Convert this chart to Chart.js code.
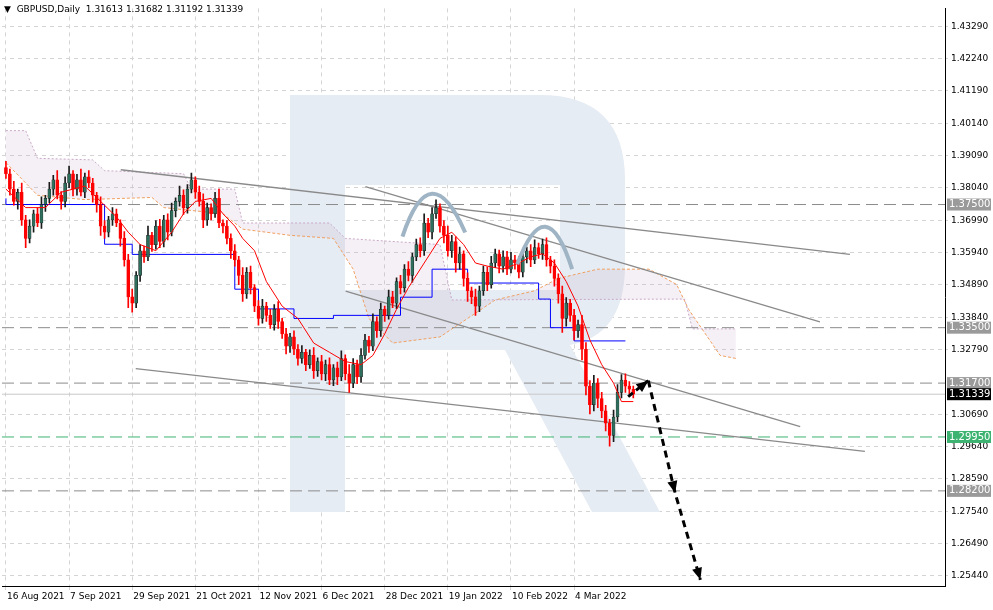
<!DOCTYPE html>
<html><head><meta charset="utf-8">
<script src="https://cdn.jsdelivr.net/npm/chart.js@4"></script>
<style>html,body{margin:0;background:#fff}#wrap{width:993px;height:610px;position:relative}</style>
</head><body><div id="wrap"><canvas id="c" width="993" height="610"></canvas></div>
<script>
// GBPUSD daily closes (open = previous close), wicks in pips
const closes = [
1.3850,1.3800,1.3760,1.3790,1.3700,1.3640,1.3680,1.3720,1.3690,1.3750,
1.3770,1.3800,1.3830,1.3780,1.3760,1.3820,1.3850,1.3800,1.3830,1.3790,
1.3840,1.3820,1.3780,1.3750,1.3680,1.3660,1.3700,1.3720,1.3690,1.3640,
1.3570,1.3450,1.3430,1.3520,1.3600,1.3580,1.3650,1.3620,1.3680,1.3630,
1.3700,1.3660,1.3730,1.3760,1.3780,1.3740,1.3800,1.3830,1.3790,1.3760,
1.3700,1.3740,1.3720,1.3770,1.3690,1.3680,1.3640,1.3600,1.3570,1.3520,
1.3460,1.3530,1.3480,1.3420,1.3380,1.3420,1.3390,1.3360,1.3410,1.3370,
1.3330,1.3290,1.3320,1.3280,1.3250,1.3270,1.3230,1.3260,1.3210,1.3240,
1.3200,1.3230,1.3180,1.3220,1.3190,1.3250,1.3200,1.3170,1.3230,1.3190,
1.3260,1.3310,1.3290,1.3370,1.3340,1.3410,1.3390,1.3450,1.3430,1.3500,
1.3480,1.3540,1.3520,1.3580,1.3620,1.3600,1.3690,1.3660,1.3720,1.3740,
1.3680,1.3650,1.3600,1.3630,1.3560,1.3590,1.3510,1.3470,1.3450,1.3420,
1.3470,1.3530,1.3490,1.3560,1.3590,1.3550,1.3580,1.3540,1.3570,1.3560,
1.3530,1.3580,1.3600,1.3570,1.3610,1.3590,1.3620,1.3570,1.3550,1.3510,
1.3460,1.3380,1.3430,1.3390,1.3340,1.3360,1.3280,1.3160,1.3100,1.3170,
1.3120,1.3080,1.3040,1.3000,1.3060,1.3140,1.3180,1.3160,1.3150,1.31339];
const firstOpen = 1.3870;
const upWick = [
20,15,25,10,30,15,20,12,18,25,10,22,15,30,12,20,25,10,18,35,
12,20,15,10,25,18,12,20,15,10,22,18,25,12,20,15,30,10,18,22,
15,20,25,12,30,18,15,22,10,20,25,15,12,20,30,10,18,15,20,12,
25,15,20,10,18,22,12,20,15,25,10,18,12,20,15,22,10,18,25,12,
20,15,22,10,18,25,12,30,20,15,22,18,12,25,15,20,10,22,18,12,
20,15,25,12,18,22,30,15,20,25,12,18,30,20,15,22,10,18,12,25,
15,20,18,22,15,12,20,18,25,15,22,18,12,20,25,15,18,22,12,20,
15,25,18,12,20,15,30,22,18,25,15,20,18,12,22,25,18,20,15,10];
const dnWick = [
15,20,12,25,18,30,15,20,12,18,22,15,20,12,25,18,15,22,20,12,
18,15,22,25,30,20,15,18,12,25,20,35,30,15,20,18,12,22,15,20,
18,25,12,20,15,22,18,12,20,15,25,18,20,12,15,22,18,25,20,30,
25,15,20,18,22,15,20,12,18,22,15,25,20,18,22,15,20,12,25,18,
20,22,15,18,25,12,20,30,15,22,18,12,20,15,22,18,20,12,15,18,
20,15,18,22,12,20,15,18,22,15,20,25,18,22,30,20,25,35,22,30,
18,15,20,12,15,22,20,18,12,20,18,15,20,22,12,15,18,20,22,25,
30,45,25,20,30,22,35,28,30,20,30,22,25,35,20,15,18,20,15,12];

// Ichimoku (index, price)
const tenkan = [[0,1.3800],[5,1.3740],[10,1.3740],[14,1.3790],[20,1.3810],[24,1.3760],[28,1.3710],[31,1.3660],[34,1.3620],[38,1.3600],[42,1.3660],[45,1.3720],[48,1.3760],[52,1.3770],[55,1.3720],[58,1.3680],[60,1.3640],[63,1.3600],[66,1.3500],[70,1.3420],[74,1.3380],[78,1.3300],[82,1.3270],[86,1.3240],[90,1.3230],[93,1.3260],[96,1.3330],[99,1.3410],[102,1.3480],[106,1.3560],[110,1.3640],[113,1.3660],[116,1.3620],[119,1.3560],[122,1.3550],[126,1.3540],[130,1.3560],[133,1.3580],[136,1.3590],[139,1.3560],[142,1.3500],[145,1.3420],[148,1.3310],[151,1.3230],[154,1.3170],[156,1.3110],[159,1.3110]];
const kijun = [[0,1.3770],[25,1.3750],[32,1.3621],[58,1.3588],[64,1.3475],[73,1.3411],[83,1.3380],[100,1.3390],[108,1.3449],[117,1.3540],[135,1.3495],[138,1.3443],[144,1.3350],[148,1.3307],[157,1.3307]];
const spanA = [[0,1.3886],[8,1.3780],[20,1.3766],[37,1.3773],[40,1.3740],[55,1.3720],[60,1.3670],[72,1.3650],[83,1.3640],[88,1.3540],[92,1.3380],[98,1.3300],[110,1.3320],[124,1.3440],[134,1.3470],[140,1.3510],[150,1.3540],[163,1.3540],[170,1.3490],[173,1.3410],[181,1.3260],[185,1.3250]];
const spanB = [[0,1.3990],[5,1.3990],[8,1.3900],[22,1.3895],[25,1.3860],[45,1.3850],[47,1.3800],[58,1.3800],[60,1.3690],[82,1.3690],[86,1.3640],[110,1.3620],[113,1.3440],[172,1.3443],[174,1.3346],[185,1.3346]];

const trendLines = [
  [[29.1,1.3863],[213.9,1.3588]],
  [[91.1,1.3808],[206.3,1.3369]],
  [[86.1,1.3469],[201.3,1.3029]],
  [[32.9,1.3217],[217.7,1.2948]]
];
const forecast = [[157.7,1.3126],[162.8,1.3178],[169.6,1.2813],[176,1.2531]];
const humps = [[[100.5,1.3646],[108,1.3785],[116.4,1.3659]],[[129.6,1.3556],[136.7,1.3678],[143.5,1.3540]]];

const levels = [1.3750,1.3350,1.3170,1.2820];
const supportLevel = 1.2995;
const lastPrice = 1.31339;
const yTicks = [1.2544,1.2649,1.2754,1.2859,1.2964,1.3069,1.3279,1.3384,1.3489,1.3594,1.3699,1.3804,1.3909,1.4014,1.4119,1.4224,1.4329];
const dateTicks = {0:'16 Aug 2021',16:'7 Sep 2021',32:'29 Sep 2021',48:'21 Oct 2021',64:'12 Nov 2021',80:'6 Dec 2021',96:'28 Dec 2021',112:'19 Jan 2022',128:'10 Feb 2022',144:'4 Mar 2022'};

const bodies = [], wicks = [];
closes.forEach((c, i) => {
  const o = i === 0 ? firstOpen : closes[i - 1];
  bodies.push({x: i, y: [o, c], up: c >= o});
  wicks.push({x: i, y: [Math.min(o, c) - dnWick[i] / 10000, Math.max(o, c) + upWick[i] / 10000], up: c >= o});
});
const pts = a => a.map(p => ({x: p[0], y: p[1]}));

const BULL = '#2e6e5c', BEAR = '#ff0000';

const arrowHead = (ctx, x1, y1, x2, y2) => {
  const ang = Math.atan2(y2 - y1, x2 - x1);
  ctx.beginPath(); ctx.moveTo(x2, y2);
  ctx.lineTo(x2 - 13 * Math.cos(ang - 0.4), y2 - 13 * Math.sin(ang - 0.4));
  ctx.lineTo(x2 - 13 * Math.cos(ang + 0.4), y2 - 13 * Math.sin(ang + 0.4));
  ctx.closePath(); ctx.fill();
};

const overlay = {
  id: 'overlay',
  beforeDatasetsDraw(chart) {
    const ctx = chart.ctx;
    ctx.save();
    ctx.fillStyle = '#e6ecf4';
    ctx.beginPath();
    ctx.moveTo(290, 95); ctx.lineTo(540, 95); ctx.quadraticCurveTo(625, 95, 625, 180);
    ctx.lineTo(625, 265); ctx.quadraticCurveTo(625, 335, 570, 345);
    ctx.lineTo(660, 512); ctx.lineTo(592, 512); ctx.lineTo(505, 350);
    ctx.lineTo(345, 350); ctx.lineTo(345, 512); ctx.lineTo(290, 512); ctx.closePath();
    ctx.moveTo(345, 185); ctx.lineTo(345, 290); ctx.lineTo(560, 290); ctx.lineTo(560, 185); ctx.closePath();
    ctx.fill('evenodd');
    ctx.restore();
  },
  afterDatasetsDraw(chart) {
    const ctx = chart.ctx, xs = chart.scales.x, ys = chart.scales.y, a = chart.chartArea;
    const px = q => [xs.getPixelForValue(q[0]), ys.getPixelForValue(q[1])];
    ctx.save();
    ctx.strokeStyle = '#9fb4c4'; ctx.lineWidth = 4;
    humps.forEach(h => {
      const p = h.map(px);
      const cx = 2 * p[1][0] - (p[0][0] + p[2][0]) / 2, cy = 2 * p[1][1] - (p[0][1] + p[2][1]) / 2;
      ctx.beginPath(); ctx.moveTo(p[0][0], p[0][1]); ctx.quadraticCurveTo(cx, cy, p[2][0], p[2][1]); ctx.stroke();
    });
    ctx.fillStyle = '#000';
    [[0, 1], [1, 2], [2, 3]].forEach(([s, e]) => {
      const p1 = px(forecast[s]), p2 = px(forecast[e]);
      if (s !== 1) arrowHead(ctx, p1[0], p1[1], p2[0], p2[1]);
    });
    { const p1 = px(forecast[1]), p2 = px(forecast[2]); arrowHead(ctx, p1[0], p1[1], p2[0], p2[1]); }
    ctx.font = '10px "DejaVu Sans", sans-serif'; ctx.textBaseline = 'middle';
    const box = (v, bg) => {
      const y = ys.getPixelForValue(v);
      ctx.fillStyle = bg; ctx.fillRect(a.right + 2, y - 6, 44, 12);
      ctx.fillStyle = '#fff'; ctx.fillText(v.toFixed(5), a.right + 4, y);
    };
    levels.forEach(v => box(v, '#9a9a9a'));
    box(supportLevel, '#3cb371');
    box(lastPrice, '#000');
    ctx.fillStyle = '#000'; ctx.font = '9px "DejaVu Sans", sans-serif';
    ctx.fillText('\u25BC  GBPUSD,Daily  1.31613 1.31682 1.31192 1.31339', 4, 10);
    ctx.textBaseline = 'top';
    Object.keys(dateTicks).forEach(k => {
      ctx.fillText(dateTicks[k], xs.getPixelForValue(+k) + 1, a.bottom + 6);
    });
    ctx.restore();
  }
};

const hLine = (v, color, dash, w) => ({type: 'line', data: [{x: -1, y: v}, {x: 240, y: v}], borderColor: color, borderDash: dash, borderWidth: w || 1, pointRadius: 0, order: 5});

const datasets = [
  ...levels.map(v => hLine(v, '#8c8c8c', [12, 6])),
  hLine(supportLevel, '#3cb371', [12, 6]),
  hLine(lastPrice, '#c8c8c8', [], 1),
  {type: 'line', data: pts(spanB), borderColor: '#c9a9c9', borderDash: [2, 2], borderWidth: 1, pointRadius: 0, order: 6},
  {type: 'line', data: pts(spanA), borderColor: '#f0a060', borderDash: [3, 2], borderWidth: 1, pointRadius: 0, fill: '-1', backgroundColor: 'rgba(190,160,190,0.16)', order: 6},
  {type: 'line', data: pts(kijun), borderColor: '#0000ff', borderWidth: 1, pointRadius: 0, stepped: 'after', order: 3},
  ...trendLines.map(l => ({type: 'line', data: pts(l), borderColor: '#8a8a8a', borderWidth: 1.3, pointRadius: 0, order: 4})),
  {type: 'bar', data: wicks, barThickness: 1, grouped: false,
   backgroundColor: c => c.raw && c.raw.up ? '#1a1a1a' : BEAR, order: 2},
  {type: 'bar', data: bodies, barThickness: 3, grouped: false, borderSkipped: false,
   minBarLength: 1, backgroundColor: c => c.raw && c.raw.up ? BULL : BEAR, borderColor: c => c.raw && c.raw.up ? '#1a1a1a' : BEAR, borderWidth: 0.5, order: 1},
  {type: 'line', data: pts(tenkan), borderColor: '#ff0000', borderWidth: 1, pointRadius: 0, order: 0},
  {type: 'line', data: pts(forecast.slice(0, 2)), borderColor: '#000', borderDash: [6, 4], borderWidth: 3, pointRadius: 0, order: 0},
  {type: 'line', data: pts(forecast.slice(1)), borderColor: '#000', borderDash: [7, 5], borderWidth: 3, pointRadius: 0, order: 0}
];

new Chart(document.getElementById('c'), {
  data: {datasets},
  options: {
    responsive: false, animation: false, events: [],
    layout: {padding: {left: 2, top: 4, right: 0, bottom: 20}},
    plugins: {legend: {display: false}, tooltip: {enabled: false}},
    scales: {
      x: {type: 'linear', min: -1, max: 238, offset: false,
        afterBuildTicks: s => { s.ticks = Object.keys(dateTicks).map(k => ({value: +k})); },
        ticks: {display: false},
        grid: {color: '#d4d4d4', tickLength: 4, offset: false},
        border: {color: '#000', dash: [4, 4]}
      },
      y: {position: 'right', min: 1.2511, max: 1.4387,
        afterBuildTicks: s => { s.ticks = yTicks.map(v => ({value: v})); },
        afterFit: s => { s.width = 48; },
        ticks: {color: '#000', font: {size: 9, family: 'DejaVu Sans'}, callback: v => v.toFixed(5), padding: 3},
        grid: {color: '#d4d4d4', tickLength: 3},
        border: {color: '#000', dash: [4, 4]}
      }
    }
  },
  plugins: [overlay]
});
</script></body></html>
